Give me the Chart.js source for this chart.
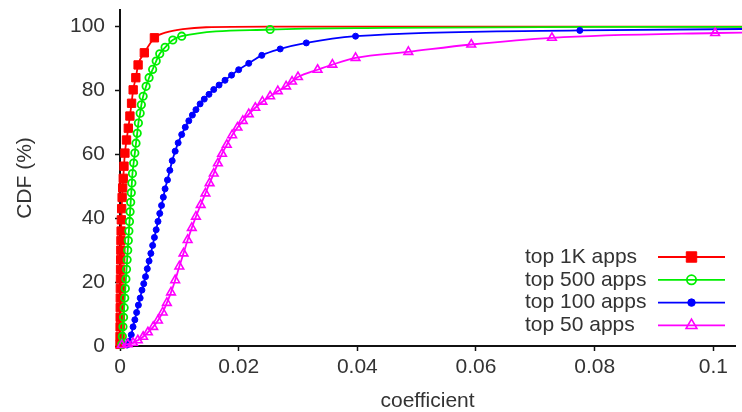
<!DOCTYPE html>
<html>
<head>
<meta charset="utf-8">
<script src="https://cdn.jsdelivr.net/npm/chart.js@4.4.0/dist/chart.umd.min.js"></script>
<style>
  html, body { margin: 0; padding: 0; background: #fff; }
  canvas { display: block; }
</style>
</head>
<body>
<canvas id="cdf" width="742" height="412"></canvas>
<script>
// [coefficient, CDF %] pairs. "Marks" get a point marker, "Tail" points only carry the line on.
const top1kMarks = [
  [0, 0.5], [0.00001, 3], [0.00002, 6], [0.00003, 9], [0.00004, 12], [0.00005, 15],
  [0.00006, 18], [0.00008, 21], [0.0001, 24], [0.00012, 27], [0.00014, 30], [0.00016, 33],
  [0.00019, 36], [0.00023, 39.5], [0.00028, 43], [0.00036, 46.5], [0.00045, 49.5],
  [0.00055, 52.5], [0.00067, 56.3], [0.00083, 60.4], [0.0011, 64.5], [0.0014, 68.2],
  [0.00167, 72], [0.00195, 76], [0.00222, 80.2], [0.00267, 84], [0.00305, 88],
  [0.0041, 91.8], [0.0058, 96.5]
];
const top1kTail = [[0.0078, 98.2], [0.0106, 99.2], [0.0145, 99.8], [0.025, 100], [0.2, 100]];

const top500Marks = [
  [0.0003, 0.5], [0.0004, 3], [0.0005, 6], [0.0006, 9], [0.0007, 12], [0.0008, 15],
  [0.0009, 18], [0.001, 21], [0.0011, 24], [0.0012, 27], [0.0013, 30], [0.0014, 33],
  [0.0015, 36], [0.0016, 39], [0.0017, 42], [0.0018, 45], [0.0019, 48], [0.002, 51],
  [0.0021, 54], [0.0023, 57.3], [0.0025, 60.4], [0.0027, 63.5], [0.0029, 66.6],
  [0.0031, 69.8], [0.0034, 72.9], [0.0036, 75.5], [0.0039, 78.2], [0.0044, 81.3],
  [0.0049, 84], [0.0055, 86.6], [0.0061, 89.2], [0.0067, 91.5], [0.0076, 93.5],
  [0.0089, 95.8], [0.0104, 97], [0.0253, 99.1]
];
const top500Tail = [[0.045, 99.6], [0.08, 99.9], [0.2, 100]];

const top100Marks = [
  [0.0012, 0.3], [0.0015, 1.5], [0.0019, 3.5], [0.0022, 6], [0.0025, 8.2], [0.0028, 10.5],
  [0.0031, 12.8], [0.0034, 15], [0.0037, 17.5], [0.004, 19.5], [0.0043, 21.7],
  [0.0046, 24.2], [0.0049, 26.6], [0.0052, 29], [0.0055, 31.5], [0.0058, 34],
  [0.0061, 36.4], [0.0064, 39], [0.0067, 41.5], [0.007, 44], [0.0073, 46.6],
  [0.0076, 49.2], [0.008, 52], [0.0084, 55], [0.0088, 58], [0.0093, 61], [0.0098, 63.6],
  [0.0104, 66.2], [0.011, 68.5], [0.0116, 70.5], [0.0122, 72.3], [0.0128, 74],
  [0.0135, 75.8], [0.0142, 77.3], [0.015, 78.8], [0.0158, 80.3], [0.0167, 81.7],
  [0.0177, 83.2], [0.0188, 84.8], [0.02, 86.5], [0.0217, 88.5], [0.0239, 91],
  [0.027, 93], [0.0314, 94.9], [0.0397, 97], [0.0775, 98.8]
];
const top100Tail = [[0.13, 99.6]];

const top50Marks = [
  [0.0003, 0.3], [0.0013, 0.6], [0.0022, 1], [0.003, 1.8], [0.0039, 2.9], [0.0047, 4.3],
  [0.0056, 6], [0.0064, 8], [0.0072, 10.5], [0.0079, 13.5], [0.0086, 16.8], [0.0093, 20.6],
  [0.01, 24.9], [0.0107, 29], [0.0114, 33.2], [0.0121, 37], [0.0128, 40.5], [0.0136, 44.2],
  [0.0144, 47.8], [0.0151, 51], [0.0158, 54], [0.0165, 57.2], [0.0172, 60.2], [0.018, 63],
  [0.0189, 66], [0.0198, 68.4], [0.0207, 70.5], [0.0217, 72.6], [0.0228, 74.6],
  [0.024, 76.5], [0.0253, 78.2], [0.0266, 79.8], [0.028, 81.3], [0.029, 82.8],
  [0.03, 84.2], [0.0333, 86.5], [0.0358, 88.1], [0.0397, 90.2], [0.0486, 92.1],
  [0.0592, 94.4], [0.0728, 96.5], [0.1003, 98]
];
const top50Tail = [[0.13, 98.8]];

const seriesNames = ["top 1K apps", "top 500 apps", "top 100 apps", "top 50 apps"];
const xTicks = [0, 0.02, 0.04, 0.06, 0.08, 0.1];
const yTicks = [0, 20, 40, 60, 80, 100];

const FONT = "'Liberation Sans', Arial, Helvetica, sans-serif";
const TEXT = "#333";
const AXIS = "#111";

function series(label, marks, tail, color, style, radius, fill, lw, order) {
  return {
    label,
    order,
    data: marks.concat(tail).map(([x, y]) => ({ x, y })),
    borderColor: color,
    borderWidth: 1.8,
    backgroundColor: fill,
    pointStyle: style,
    pointRadius: (ctx) => (ctx.dataIndex < marks.length ? radius : 0),
    pointBorderColor: color,
    pointBackgroundColor: fill,
    pointBorderWidth: lw,
    legendRadius: radius * 1.25,
    cubicInterpolationMode: "monotone",
    clip: false,
  };
}

// key in the lower right: name, line sample, marker
const keyBox = {
  id: "keyBox",
  afterDraw(chart) {
    const ctx = chart.ctx;
    ctx.save();
    ctx.font = `21px ${FONT}`;
    ctx.textBaseline = "middle";
    ctx.textAlign = "left";
    chart.data.datasets.forEach((ds, i) => {
      const y = 257 + i * 22.8;
      ctx.fillStyle = TEXT;
      ctx.fillText(ds.label, 525, y);
      ctx.strokeStyle = ds.borderColor;
      ctx.lineWidth = ds.borderWidth;
      ctx.beginPath();
      ctx.moveTo(658, y);
      ctx.lineTo(725, y);
      ctx.stroke();
      ctx.fillStyle = ds.pointBackgroundColor;
      ctx.lineWidth = ds.pointBorderWidth;
      Chart.helpers.drawPoint(ctx, {
        pointStyle: ds.pointStyle,
        radius: ds.legendRadius,
        borderWidth: ds.pointBorderWidth,
        rotation: 0,
      }, 691.5, y);
    });
    ctx.restore();
  },
};

new Chart(document.getElementById("cdf"), {
  type: "line",
  data: {
    datasets: [
      series(seriesNames[0], top1kMarks, top1kTail, "#ff0000", "rect", 5.9, "#ff0000", 1, 3),
      series(seriesNames[1], top500Marks, top500Tail, "#00ee00", "circle", 3.7, "rgba(0,0,0,0)", 1.8, 2),
      series(seriesNames[2], top100Marks, top100Tail, "#0000ff", "circle", 3, "#0000ff", 1, 1),
      series(seriesNames[3], top50Marks, top50Tail, "#ff00ff", "triangle", 5, "rgba(0,0,0,0)", 1.6, 0),
    ],
  },
  options: {
    responsive: false,
    animation: false,
    events: [],
    devicePixelRatio: 1,
    layout: { padding: { top: 10, right: 0, bottom: 0, left: 0 } },
    plugins: { legend: { display: false }, tooltip: { enabled: false } },
    scales: {
      x: {
        type: "linear",
        min: 0,
        max: 0.10367,
        afterBuildTicks: (s) => { s.ticks = xTicks.map((v) => ({ value: v })); },
        afterFit: (s) => {
          s.height = 66;
          s.paddingLeft = s.paddingRight = s.paddingTop = s.paddingBottom = 0;
        },
        ticks: {
          callback: (v) => String(v),
          font: { family: FONT, size: 21 },
          color: TEXT,
          padding: 4,
          maxRotation: 0,
          autoSkip: false,
        },
        grid: { drawOnChartArea: false, tickLength: 5, tickWidth: 1.5, tickColor: AXIS },
        border: { color: AXIS, width: 2 },
        title: {
          display: true,
          text: "coefficient",
          font: { family: FONT, size: 21, lineHeight: 1 },
          color: TEXT,
          padding: { top: 0, bottom: 0 },
        },
      },
      y: {
        min: 0,
        max: 105.2,
        afterBuildTicks: (s) => { s.ticks = yTicks.map((v) => ({ value: v })); },
        afterFit: (s) => {
          s.width = 120;
          s.paddingLeft = s.paddingRight = s.paddingTop = s.paddingBottom = 0;
        },
        ticks: {
          font: { family: FONT, size: 21 },
          color: TEXT,
          padding: 10,
        },
        grid: { drawOnChartArea: false, tickLength: 5, tickWidth: 1.5, tickColor: AXIS },
        border: { color: AXIS, width: 2 },
        title: {
          display: true,
          text: "CDF (%)",
          font: { family: FONT, size: 21, lineHeight: 1 },
          color: TEXT,
          padding: { top: 15, bottom: 0 },
        },
      },
    },
  },
  plugins: [keyBox],
});
</script>
</body>
</html>
